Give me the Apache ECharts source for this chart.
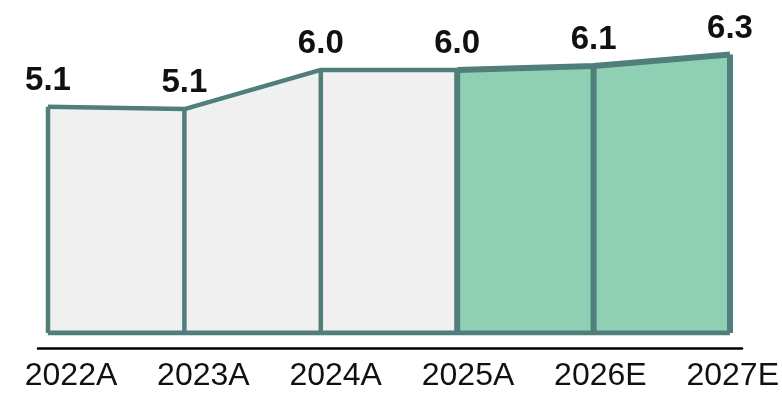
<!DOCTYPE html>
<html>
<head>
<meta charset="utf-8">
<script src="https://cdn.jsdelivr.net/npm/echarts@6/dist/echarts.min.js"></script>
<style>
  html, body { margin: 0; padding: 0; background: #fff; }
  #chart { width: 782px; height: 395px; }
</style>
</head>
<body>
<div id="chart"></div>
<script>
// values
var years = ['2022A', '2023A', '2024A', '2025A', '2026E', '2027E'];
var values = [5.14, 5.09, 5.98, 5.98, 6.07, 6.33];
var actualVals = [5.14, 5.09, 5.98, 5.98, '-', '-'];
var forecastVals = ['-', '-', '-', 5.98, 6.07, 6.33];
var baseVals = [0, 0, 0, 0, 0, 0];

var teal = '#507e7a';
var grey = '#f0f0f0';
var green = '#8fd0b5';
var font = "'Liberation Sans', Arial, sans-serif";

var chart = echarts.init(document.getElementById('chart'));

var option = {
	animation: false,
	grid: [
		{ left: 48, right: 52, top: 25, bottom: 62 },
		{ left: 38, right: 40, top: 25, bottom: 47 },
		{ left: 71, right: 48, top: 25, bottom: 47 }
	],
	xAxis: [
		{
			gridIndex: 0, type: 'category', data: years, boundaryGap: false,
			axisLine: { show: false }, axisTick: { show: false },
			axisLabel: { show: false }, splitLine: { show: false }
		},
		{
			gridIndex: 1, type: 'category', data: years, boundaryGap: false,
			axisLine: { show: true, lineStyle: { color: '#000', width: 2.5 } },
			axisTick: { show: false }, axisLabel: { show: false }
		},
		{
			gridIndex: 2, type: 'category', data: years, boundaryGap: false,
			axisLine: { show: false }, axisTick: { show: false },
			axisLabel: {
				show: true, interval: 0, margin: 28, verticalAlign: 'middle',
				color: '#111', fontFamily: font, fontSize: 32
			}
		}
	],
	yAxis: [
		{ gridIndex: 0, type: 'value', min: 0, max: 7, show: false },
		{ gridIndex: 1, type: 'value', min: 0, max: 7, show: false },
		{ gridIndex: 2, type: 'value', min: 0, max: 7, show: false }
	],
	series: [
		{
			name: 'actual', type: 'line', data: actualVals,
			symbol: 'none', z: 2,
			lineStyle: { color: teal, width: 4.5 },
			areaStyle: { color: grey, opacity: 1 }
		},
		{
			name: 'forecast', type: 'line', data: forecastVals,
			symbol: 'none', z: 3,
			lineStyle: { color: teal, width: 6 },
			areaStyle: { color: green, opacity: 1 }
		},
		{
			// bottom edge of the boxes
			name: 'base', type: 'line', data: baseVals,
			symbol: 'none', z: 4,
			lineStyle: { color: teal, width: 5 }
		},
		{
			// vertical dividers
			name: 'dividers', type: 'custom', z: 5,
			data: values.map(function (v, i) { return [i, v]; }),
			renderItem: function (params, api) {
				var top = api.coord([api.value(0), api.value(1)]);
				var bot = api.coord([api.value(0), 0]);
				var w = api.value(0) >= 3 ? 6 : 4.5;
				return {
					type: 'line',
					shape: { x1: top[0], y1: top[1], x2: bot[0], y2: bot[1] },
					style: { stroke: teal, lineWidth: w }
				};
			}
		},
		{
			name: 'labels', type: 'line', data: values, z: 6,
			symbol: 'circle', symbolSize: 1,
			itemStyle: { color: 'transparent' },
			lineStyle: { width: 0, opacity: 0 },
			label: {
				show: true, position: 'top', distance: 9,
				color: '#111', fontFamily: font, fontSize: 33, fontWeight: 'bold',
				formatter: function (p) { return p.value.toFixed(1); }
			}
		}
	]
};

chart.setOption(option);
</script>
</body>
</html>
